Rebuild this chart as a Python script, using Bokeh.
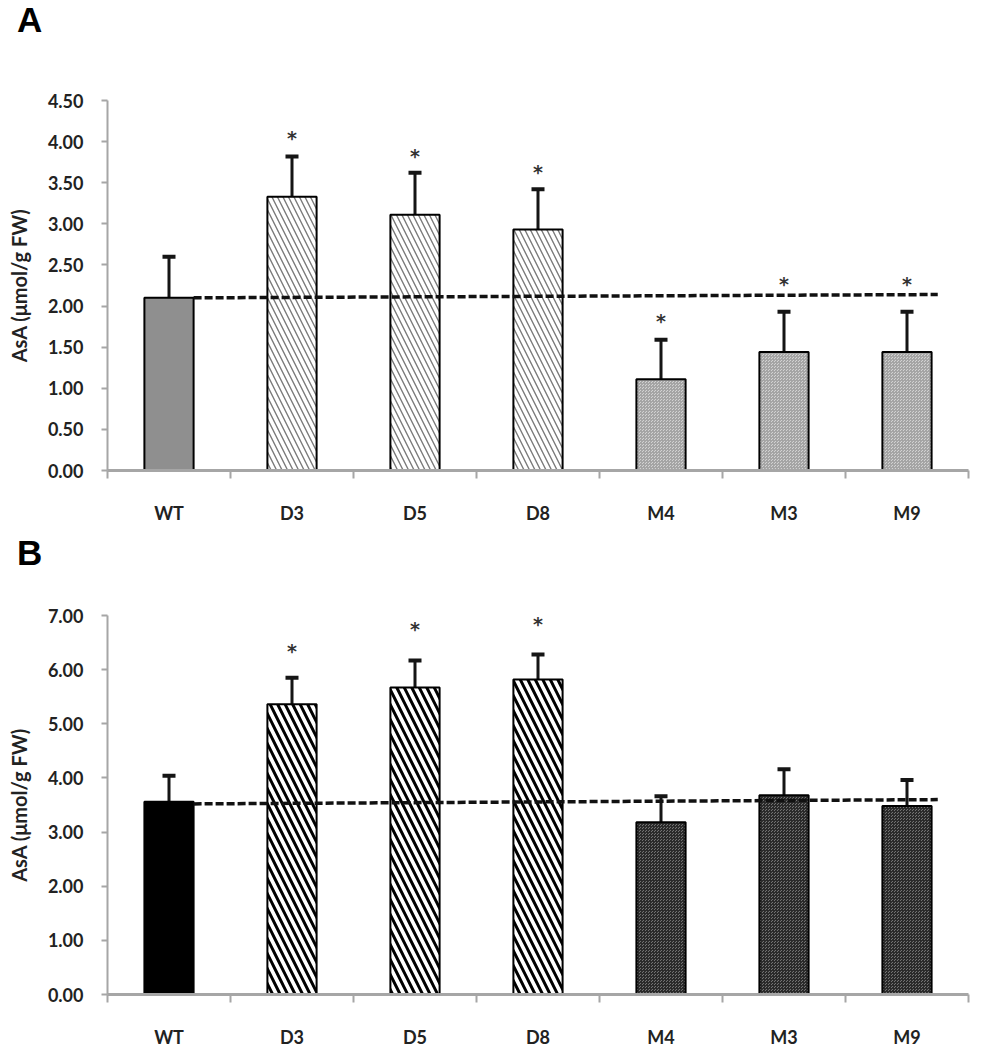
from bokeh.plotting import figure
from bokeh.models import (FixedTicker, Whisker, TeeHead, ColumnDataSource,
                          Range1d, NumeralTickFormatter, Div)
from bokeh.layouts import column
from bokeh.embed import file_html
from bokeh.resources import INLINE
from bokeh.core.properties import value

# ---------------- data ----------------
categories = ["WT", "D3", "D5", "D8", "M4", "M3", "M9"]
groups = ["wt", "d", "d", "d", "m", "m", "m"]

asa_A = [2.10, 3.33, 3.11, 2.93, 1.11, 1.44, 1.44]
err_A = [0.50, 0.49, 0.51, 0.49, 0.48, 0.49, 0.49]
star_A = [None, 4.08, 3.86, 3.67, 1.86, 2.31, 2.31]
trend_A = [2.10, 2.14]
yticks_A = [0.0, 0.5, 1.0, 1.5, 2.0, 2.5, 3.0, 3.5, 4.0, 4.5]

asa_B = [3.56, 5.36, 5.67, 5.82, 3.18, 3.68, 3.48]
err_B = [0.48, 0.49, 0.50, 0.46, 0.48, 0.48, 0.48]
star_B = [None, 6.40, 6.80, 6.90, None, None, None]
trend_B = [3.52, 3.60]
yticks_B = [0, 1, 2, 3, 4, 5, 6, 7]

y_label = "AsA (μmol/g FW)"

FONT = "Lato"
AXIS_GRAY = "#a6a6a6"
TEXT = "#222222"
BAR_W = 0.4

styles_A = {
    "wt": dict(fill_color="#8f8f8f", hatch_pattern=None),
    "d": dict(fill_color="white", hatch_pattern="\\", hatch_color="#7a7a7a",
              hatch_scale=11, hatch_weight=1.4),
    "m": dict(fill_color="#d2d2d2", hatch_pattern="*", hatch_color="#a4a4a4",
              hatch_scale=3, hatch_weight=1),
}
styles_B = {
    "wt": dict(fill_color="black", hatch_pattern=None),
    "d": dict(fill_color="white", hatch_pattern="\\", hatch_color="black",
              hatch_scale=15, hatch_weight=3),
    "m": dict(fill_color="#737373", hatch_pattern="*", hatch_color="#2a2a2a",
              hatch_scale=3, hatch_weight=1),
}


def letter_div(letter):
    return Div(text=letter, width=120, height=45,
               styles={"font-family": "'Liberation Sans', Arial, sans-serif",
                       "font-size": "35px", "font-weight": "bold",
                       "line-height": "40px", "padding-left": "17px",
                       "color": "black", "margin": "0"})


def make_panel(vals, errs, stars, trend, yticks, ymax, styles,
               height, border_top, border_bottom):
    n = len(categories)
    xs = [i + 0.5 for i in range(n)]
    p = figure(width=982, height=height, output_backend="svg", toolbar_location=None,
               x_range=Range1d(0, n), y_range=Range1d(0, ymax),
               min_border_left=107, min_border_right=14,
               min_border_top=border_top, min_border_bottom=border_bottom)
    p.outline_line_color = None
    p.grid.visible = False

    # bars by group
    for g, st in styles.items():
        idx = [i for i in range(n) if groups[i] == g]
        src = ColumnDataSource(dict(x=[xs[i] for i in idx], top=[vals[i] for i in idx]))
        kw = dict(st)
        if kw.get("hatch_pattern") is None:
            kw.pop("hatch_pattern")
        p.vbar(x="x", top="top", bottom=0, width=BAR_W, source=src,
               line_color="black", line_width=2, **kw)

    # error bars (upper only)
    esrc = ColumnDataSource(dict(x=xs, lower=vals,
                                 upper=[v + e for v, e in zip(vals, errs)]))
    w = Whisker(base="x", lower="lower", upper="upper", source=esrc,
                line_color="#151515", line_width=3,
                upper_head=TeeHead(size=13, line_width=4, line_color="#151515"),
                lower_head=None)
    p.add_layout(w)

    # dashed reference line from WT bar edge to last bar edge
    p.line(x=[xs[0] + BAR_W / 2, xs[-1] + BAR_W / 2 + 0.05], y=trend,
           line_color="#111111", line_width=3.5, line_dash="8 3")

    # significance stars
    sx = [xs[i] for i in range(n) if stars[i] is not None]
    sy = [stars[i] for i in range(n) if stars[i] is not None]
    p.text(x=sx, y=sy, text=["*"] * len(sx), text_align="center",
           text_baseline="middle", text_font=value("DejaVu Sans"), text_font_style="bold",
           text_font_size="19px", text_color="#333333", y_offset=3)

    # axes
    xa = p.xaxis[0]
    xa.ticker = FixedTicker(ticks=xs, minor_ticks=list(range(n + 1)))
    xa.major_label_overrides = {x: c for x, c in zip(xs, categories)}
    xa.major_tick_line_color = None
    xa.major_tick_out = 0
    xa.major_tick_in = 0
    xa.minor_tick_line_color = AXIS_GRAY
    xa.minor_tick_line_width = 2
    xa.minor_tick_out = 8
    xa.minor_tick_in = 0
    xa.axis_line_color = AXIS_GRAY
    xa.axis_line_width = 3
    xa.major_label_standoff = 23
    xa.major_label_text_font = FONT
    xa.major_label_text_font_style = "bold"
    xa.major_label_text_font_size = "18px"
    xa.major_label_text_color = TEXT

    ya = p.yaxis[0]
    ya.ticker = FixedTicker(ticks=yticks)
    ya.formatter = NumeralTickFormatter(format="0.00")
    ya.minor_tick_line_color = None
    ya.major_tick_line_color = AXIS_GRAY
    ya.major_tick_line_width = 2
    ya.major_tick_out = 6
    ya.major_tick_in = 0
    ya.axis_line_color = AXIS_GRAY
    ya.axis_line_width = 2
    ya.major_label_standoff = 18
    ya.major_label_text_font = FONT
    ya.major_label_text_font_style = "bold"
    ya.major_label_text_font_size = "18px"
    ya.major_label_text_color = TEXT
    ya.axis_label = y_label
    ya.axis_label_text_font = FONT
    ya.axis_label_text_font_style = "bold"
    ya.axis_label_text_font_size = "20px"
    ya.axis_label_text_color = TEXT
    ya.axis_label_standoff = 14
    return p


# layout: letter A (0-45), panel A (45-533), letter B (533-578), panel B (578-1050)
divA = letter_div("A")
pA = make_panel(asa_A, err_A, star_A, trend_A, yticks_A, 4.5, styles_A,
                height=488, border_top=55, border_bottom=63)
divB = letter_div("B")
pB = make_panel(asa_B, err_B, star_B, trend_B, yticks_B, 7.0, styles_B,
                height=472, border_top=37, border_bottom=46)

layout = column(divA, pA, divB, pB, spacing=0)
open("out.html", "w").write(file_html(layout, INLINE))
